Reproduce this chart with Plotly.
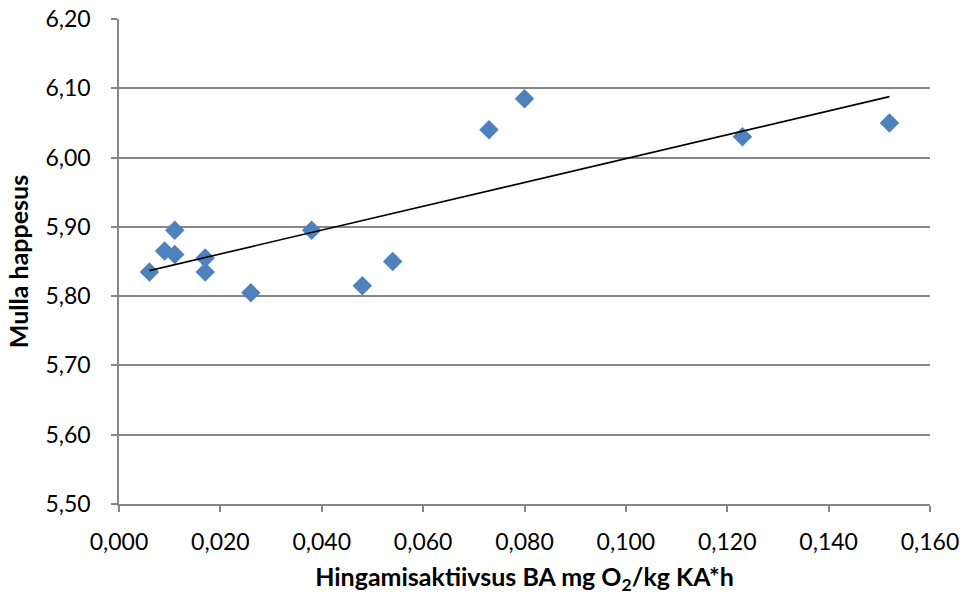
import numpy as np
import plotly.graph_objects as go

# Data
hingamisaktiivsus = [0.006, 0.009, 0.011, 0.011, 0.017, 0.017, 0.026, 0.038,
                     0.048, 0.054, 0.073, 0.080, 0.123, 0.152]
mulla_happesus = [5.835, 5.865, 5.895, 5.860, 5.855, 5.835, 5.805, 5.895,
                  5.815, 5.850, 6.040, 6.085, 6.030, 6.050]

x_ticks = [0.000, 0.020, 0.040, 0.060, 0.080, 0.100, 0.120, 0.140, 0.160]
y_ticks = [5.50, 5.60, 5.70, 5.80, 5.90, 6.00, 6.10, 6.20]

x_title = "Hingamisaktiivsus BA mg O<sub>2</sub>/kg KA*h"
y_title = "Mulla happesus"

# Linear trendline (least squares) over the data range
slope, intercept = np.polyfit(hingamisaktiivsus, mulla_happesus, 1)
trend_x = [min(hingamisaktiivsus), max(hingamisaktiivsus)]
trend_y = [slope * v + intercept for v in trend_x]

FONT = "Lato"
GRID = "#878787"

fig = go.Figure()
fig.add_trace(go.Scatter(
    x=hingamisaktiivsus, y=mulla_happesus, mode="markers",
    marker=dict(symbol="diamond", size=15, color="#4F81BD", line=dict(width=0)),
    showlegend=False, hoverinfo="x+y",
))
fig.add_trace(go.Scatter(
    x=trend_x, y=trend_y, mode="lines",
    line=dict(color="black", width=1.6),
    showlegend=False, hoverinfo="skip",
))

fig.update_layout(
    width=964, height=597,
    margin=dict(l=119, r=34, t=19, b=93),
    paper_bgcolor="white", plot_bgcolor="white",
    separators=", ",
    font=dict(family=FONT, size=23, color="black"),
    xaxis=dict(
        range=[0, 0.16], tickvals=x_ticks, tickformat=".3f",
        automargin=False,
        showgrid=False, zeroline=False,
        showline=True, linecolor=GRID, linewidth=1.5,
        ticks="outside", ticklen=6, tickcolor=GRID, tickwidth=1.5,
        ticklabelstandoff=11,
        title=dict(text=x_title, font=dict(family=FONT, size=25, weight="bold"),
                   standoff=14),
    ),
    yaxis=dict(
        range=[5.5, 6.2], tickvals=y_ticks, tickformat=".2f",
        automargin=False,
        showgrid=True, gridcolor=GRID, gridwidth=1.5, zeroline=False,
        showline=True, linecolor=GRID, linewidth=1.5,
        ticks="outside", ticklen=6, tickcolor=GRID, tickwidth=1.5,
        ticklabelstandoff=16,
        title=dict(text=y_title, font=dict(family=FONT, size=25, weight="bold"),
                   standoff=10),
    ),
)

fig.write_html("out.html")
